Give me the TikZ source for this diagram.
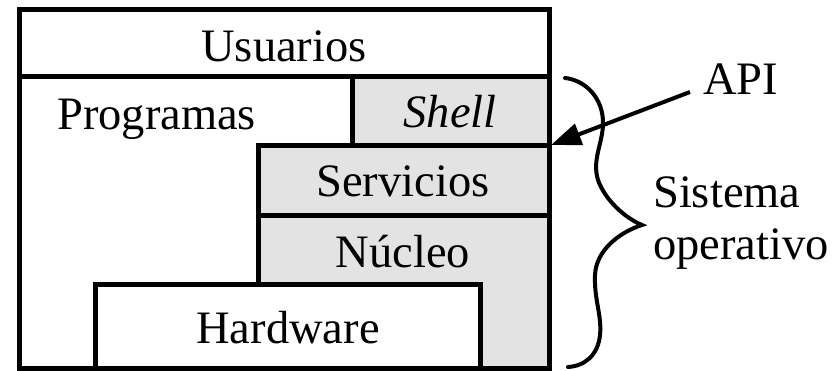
\documentclass[tikz,border=0pt]{standalone}
\usepackage{fontspec}
\setmainfont{Liberation Serif}
\usetikzlibrary{arrows.meta}
\definecolor{layergrey}{RGB}{227,227,227}
\begin{document}
\begin{tikzpicture}[x=1pt,y=-1pt,
  frame/.style={line width=5pt},
  txt/.style={inner sep=0pt, anchor=base, font=\fontsize{46.5}{53}\selectfont},
  pointer/.style={line width=4pt, -{Triangle[length=30pt,width=22pt]}},
  brace/.style={line width=4pt, line cap=round}]
\useasboundingbox (0,0) rectangle (838,371);

% grey layers of the operating system
\fill[layergrey] (352,77) rectangle (549,146);
\fill[layergrey] (258,146) rectangle (549,216);
\fill[layergrey] (258,216) -- (549,216) -- (549,368) -- (480,368)
  -- (480,285) -- (258,285) -- cycle;

% hardware box
\draw[frame, fill=white] (95,285) rectangle (480,368);

% outer frame and dividing lines
\draw[frame] (19,10) rectangle (549,368);
\draw[frame] (19,77) -- (549,77);
\draw[frame] (352,77) -- (352,146);
\draw[frame] (258,285) -- (258,146) -- (549,146);
\draw[frame] (258,216) -- (549,216);

% labels
\node[txt] (usuarios) at (284,62) {Usuarios};
\node[txt, anchor=base west] (programas) at (57,130) {Programas};
\node[txt] (shell) at (450,128) {\itshape Shell};
\node[txt] (servicios) at (403,197) {Servicios};
\node[txt] (nucleo) at (403,268) {Núcleo};
\node[txt] (hardware) at (288,343) {Hardware};
\node[txt, anchor=base west] (api) at (703,95) {API};
\node[txt, anchor=base west] (sistema) at (653,208) {Sistema};
\node[txt, anchor=base west] (operativo) at (653,260) {operativo};

% API arrow
\coordinate (apitip) at (551,145);
\draw[pointer] ([xshift=-13pt,yshift=3pt]api.base west) -- (apitip);

% curly brace
\draw[brace] (565,78) .. controls (585,80) and (604,98) .. (603,125)
  .. controls (602,145) and (592,160) .. (598,180)
  .. controls (605,200) and (625,218) .. (642,225)
  .. controls (620,232) and (596,250) .. (595,275)
  .. controls (594,300) and (602,315) .. (600,335)
  .. controls (598,355) and (585,366) .. (568,367);
\end{tikzpicture}
\end{document}
